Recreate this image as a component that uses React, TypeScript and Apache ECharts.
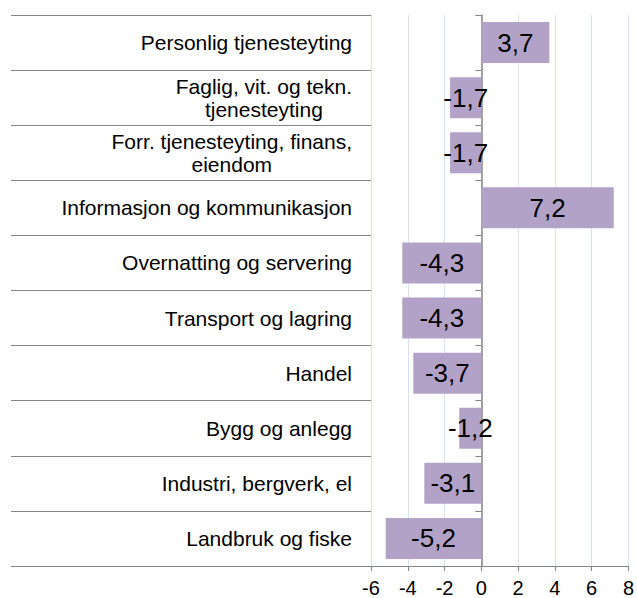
import { useEffect, useRef } from 'react';
import * as echarts from 'echarts';

const categories = [
  'Personlig tjenesteyting',
  'Faglig, vit. og tekn.\ntjenesteyting',
  'Forr. tjenesteyting, finans,\neiendom',
  'Informasjon og kommunikasjon',
  'Overnatting og servering',
  'Transport og lagring',
  'Handel',
  'Bygg og anlegg',
  'Industri, bergverk, el',
  'Landbruk og fiske',
];
const values = [3.7, -1.7, -1.7, 7.2, -4.3, -4.3, -3.7, -1.2, -3.1, -5.2];
const xMin = -6;
const xMax = 8;
const xInterval = 2;

const FONT = '"Liberation Sans", Arial, sans-serif';
const AXIS_GRAY = '#868686';

export default function App() {
  const ref = useRef<HTMLDivElement>(null);
  useEffect(() => {
    if (!ref.current) return;
    const chart = echarts.init(ref.current, undefined, { renderer: 'svg' });
    chart.setOption({
      animation: false,
      textStyle: { fontFamily: FONT },
      grid: { left: 371, width: 261, top: 15, bottom: 32 },
      xAxis: {
        type: 'value',
        min: xMin,
        max: xMax,
        interval: xInterval,
        position: 'bottom',
        axisLine: { show: true, onZero: false, lineStyle: { color: AXIS_GRAY, width: 1 } },
        axisTick: { show: true, length: 5, lineStyle: { color: AXIS_GRAY } },
        axisLabel: { fontSize: 20, color: '#000', margin: 12, fontFamily: FONT },
        splitLine: { show: true, lineStyle: { color: '#D9E3F0', width: 1 } },
      },
      yAxis: [
        {
          type: 'category',
          data: categories,
          inverse: true,
          position: 'left',
          axisLine: { show: false, onZero: false },
          axisTick: { show: true, length: 360, lineStyle: { color: AXIS_GRAY } },
          axisLabel: {
            interval: 0,
            margin: 19,
            formatter: (v: string) =>
              v
                .split('\n')
                .map((l) => `{c|${l}}`)
                .join('\n'),
            rich: {
              c: { fontSize: 21, lineHeight: 23, align: 'center', color: '#000', fontFamily: FONT },
            },
          },
          splitLine: { show: false },
        },
        {
          type: 'category',
          data: categories,
          inverse: true,
          position: 'right',
          axisLine: { show: true, onZero: true, lineStyle: { color: AXIS_GRAY, width: 1.5 } },
          axisTick: { show: true, inside: true, length: 6, lineStyle: { color: AXIS_GRAY } },
          axisLabel: { show: false },
          splitLine: { show: false },
        },
      ],
      series: [
        {
          type: 'bar',
          data: values,
          barWidth: 41,
          itemStyle: { color: '#B3A2C7' },
          label: {
            show: true,
            position: 'inside',
            fontSize: 26,
            color: '#000',
            fontFamily: FONT,
            formatter: (p: any) => String(p.value).replace('.', ','),
          },
        },
      ],
    });
    return () => chart.dispose();
  }, []);
  return <div ref={ref} style={{ position: 'absolute', left: 0, top: 0, width: 637, height: 598 }} />;
}
